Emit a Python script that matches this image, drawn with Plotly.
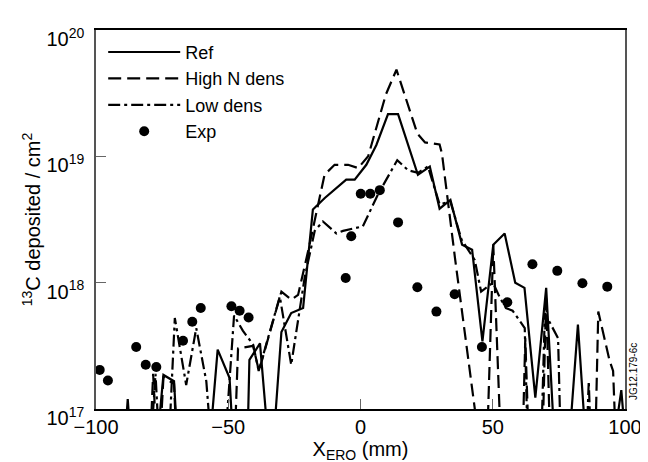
import plotly.graph_objects as go

# ---- data ----
ref_x = [-100, -90, -88, -86, -78, -74.5, -70.5, -68.5, -58, -54, -49.5, -47.5, -43, -42, -38,
         -33.8, -29.9, -26.2, -21.7, -18.0, -13.5, -9.6, -5.4, -2.2, 2.2, 6.0, 10.4, 14.2, 18.0,
         21.7, 26.2, 29.9, 34.0, 38.4, 42.2, 46.1, 50.2, 54.5, 58.5, 62.0, 66.1, 70.2, 74.0,
         78, 82.2, 86, 94, 98.6, 100]
ref_y = [3e16, 3e16, 1.2e17, 3e16, 3e16, 1.86e17, 1.66e17, 3e16, 3e16, 2.95e17, 1.76e17, 3e16, 3e16, 2.45e17, 3.31e17,
         3e16, 4.07e17, 5.75e17, 6.3e17, 3.8e18, 4.68e18, 5.5e18, 6.53e18, 6.53e18, 8.57e18, 1.23e19, 2.16e19, 2.16e19, 1.23e19,
         7.14e18, 8.3e18, 3.85e18, 4.52e18, 2.0e18, 1.82e18, 3.43e17, 2.0e18, 2.45e18, 1.0e18, 9.1e17, 1.23e17, 9.1e17, 3e16,
         3e16, 4.65e17, 3e16, 3e16, 1.41e17, 6.3e16]

high_x = [-100, -80, -78.4, -76.5, -74.5, -70.5, -69, -48, -46.3, -40.6, -38.4, -33.5, -30.5, -29.9, -26.1,
          -23.6, -19.8, -18.0, -13.6, -9.8, -4.7, -0.9, 2.9, 9.6, 13.6, 21.5, 24.4, 29.9, 30.8, 35.7,
          43.2, 46.5, 47.5, 50.2, 53.5, 61, 62.3, 64, 68.5, 70.2, 72, 88.5, 89.9, 94.2, 95.5, 97, 100]
high_y = [3e16, 3e16, 1.9e17, 3e16, 1.78e17, 1.58e17, 3e16, 3e16, 3.02e17, 3.16e17, 2.0e17, 4.65e17, 7.94e17, 8.5e17, 7.33e17,
          8.0e17, 1.78e18, 2.69e18, 7.14e18, 8.57e18, 8.57e18, 8.07e18, 1.0e19, 3.09e19, 4.85e19, 1.51e19, 1.29e19, 1.24e19, 1.05e19, 1.58e18,
          1.0e17, 3e16, 3e16, 2.0e18, 3e16, 3e16, 3.63e17, 3e16, 3e16, 7.94e17, 3e16, 3e16, 5.9e17, 2.4e17, 2.0e17, 3e16, 3e16]

low_x = [-100, -80, -77.5, -75.5, -73, -70.2, -65.9, -62.1, -58.3, -55.5, -52, -47.8, -44.5, -40.6, -38.5,
         -34.5, -30.5, -26.2, -21.1, -17.3, -14.2, -9.1, -6.6, 0.9, 6.6, 13.9, 18.0, 21.7, 25.5, 29.9,
         34.0, 38.2, 43.2, 45.6, 50.1, 52.7, 55.0, 57.5, 62.1, 63.5, 68, 69.7, 74.7, 76, 85, 86.3, 87.5, 100]
low_y = [3e16, 3e16, 1.9e17, 3e16, 3e16, 5.25e17, 1.55e17, 4.37e17, 1.66e17, 3e16, 3e16, 5.5e17, 4.17e17, 3.24e17, 2.0e17,
         3.98e17, 7.76e17, 2.24e17, 1.1e18, 2.57e18, 3.05e18, 2.45e18, 2.57e18, 2.79e18, 5.0e18, 9.33e18, 7.76e18, 7.4e18, 8.3e18, 4.17e18,
         4.37e18, 2.19e18, 1.51e18, 8.5e17, 1.0e18, 7.6e17, 6.3e17, 6.0e17, 4.37e17, 3e16, 3e16, 5.75e17, 3.63e17, 3e16, 3e16, 1.66e17, 3e16, 3e16]

exp_x = [-98.6, -95.5, -84.8, -81.2, -77.2, -67.1, -63.6, -60.4, -48.8, -45.7, -42.3, -5.6, -3.5, 0.1, 3.7,
         7.3, 14.2, 21.5, 28.7, 35.6, 45.9, 55.5, 65.0, 74.4, 83.9, 93.3]
exp_y = [2.04e17, 1.68e17, 3.1e17, 2.24e17, 2.15e17, 3.47e17, 4.9e17, 6.3e17, 6.5e17, 6.0e17, 5.3e17, 1.09e18, 2.33e18, 5.06e18, 5.06e18,
         5.4e18, 3.0e18, 9.2e17, 5.9e17, 8.1e17, 3.1e17, 7.0e17, 1.40e18, 1.24e18, 9.9e17, 9.3e17]

x_ticks = [-100, -50, 0, 50, 100]
x_tick_text = ["\u2212100", "\u221250", "0", "50", "100"]
y_ticks = [1e17, 1e18, 1e19, 1e20]
y_tick_text = ["10<sup>17</sup>", "10<sup>18</sup>", "10<sup>19</sup>", "10<sup>20</sup>"]

FONT = "Liberation Sans, Arial, Helvetica, sans-serif"

fig = go.Figure()
fig.add_trace(go.Scatter(x=ref_x, y=ref_y, mode="lines", name="Ref",
                         line=dict(color="black", width=2.2)))
fig.add_trace(go.Scatter(x=high_x, y=high_y, mode="lines", name="High N dens",
                         line=dict(color="black", width=2.2, dash="13px,6px")))
fig.add_trace(go.Scatter(x=low_x, y=low_y, mode="lines", name="Low dens",
                         line=dict(color="black", width=2.2, dash="12px,4px,3px,4px")))
fig.add_trace(go.Scatter(x=exp_x, y=exp_y, mode="markers", name="Exp",
                         marker=dict(color="black", size=10)))

fig.update_layout(
    width=648, height=462,
    margin=dict(l=88, r=31, t=22, b=61),
    paper_bgcolor="white", plot_bgcolor="white",
    font=dict(family=FONT, size=20, color="black"),
    showlegend=True,
    legend=dict(x=0.0136, y=0.99, xanchor="left", yanchor="top",
                bgcolor="rgba(0,0,0,0)", font=dict(size=18), itemwidth=72,
                tracegroupgap=0),
    xaxis=dict(range=[-100, 100], tickvals=x_ticks, ticktext=x_tick_text,
               tickfont=dict(size=20), ticklabelstandoff=-1,
               ticks="inside", ticklen=10, tickcolor="#666", showgrid=False, zeroline=False,
               showline=True, linecolor="black", linewidth=1.5, mirror=True,
               title=dict(text="X<sub>ERO</sub> (mm)", standoff=0, font=dict(size=20))),
    yaxis=dict(type="log", range=[17, 20], tickvals=y_ticks, ticktext=y_tick_text,
               tickfont=dict(size=20), ticklabelstandoff=6, ticklabelshift=9,
               ticks="inside", ticklen=10, tickcolor="#666", showgrid=False, zeroline=False,
               showline=True, linecolor="#555", linewidth=1.5, mirror=True,
               title=dict(text="<sup>13</sup>C deposited / cm<sup>2</sup>", standoff=0,
                          font=dict(size=20))),
    annotations=[dict(text="JG12.179-6c", xref="paper", yref="paper", x=1.015, y=0.1,
                      showarrow=False, textangle=-90, font=dict(size=10), xanchor="center",
                      yanchor="middle")],
)

fig.write_html("out.html")
